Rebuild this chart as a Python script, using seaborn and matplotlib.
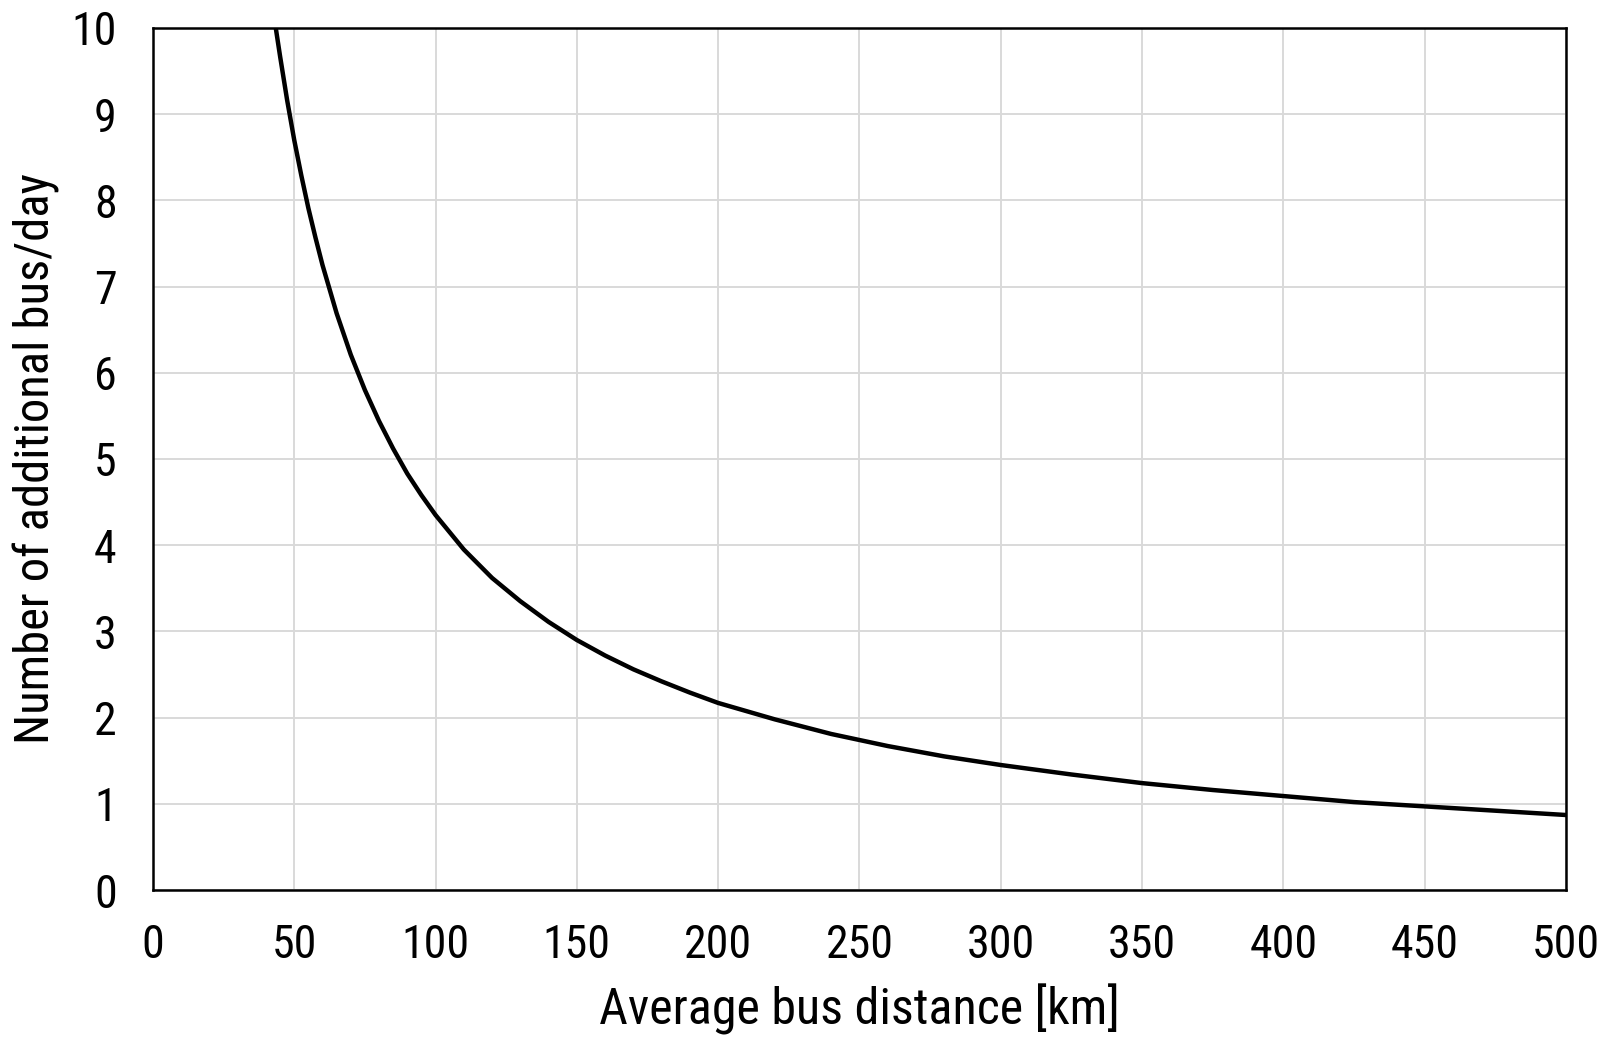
import matplotlib
matplotlib.use("Agg")
import matplotlib.pyplot as plt
import seaborn as sns
import pandas as pd

# values
distance_km = [43, 45, 47.5, 50, 52.5, 55, 57.5, 60, 65, 70, 75, 80, 85, 90, 95, 100,
               110, 120, 130, 140, 150, 160, 170, 180, 190, 200, 220, 240, 260, 280,
               300, 325, 350, 375, 400, 425, 450, 475, 500]
buses_per_day = [10.1, 9.67, 9.16, 8.70, 8.29, 7.91, 7.57, 7.25, 6.69, 6.21, 5.80, 5.44,
                 5.12, 4.83, 4.58, 4.35, 3.95, 3.62, 3.35, 3.11, 2.90, 2.72, 2.56, 2.42,
                 2.29, 2.17, 1.98, 1.81, 1.67, 1.55, 1.45, 1.34, 1.24, 1.16, 1.09, 1.02,
                 0.97, 0.92, 0.87]

x_ticks = [0, 50, 100, 150, 200, 250, 300, 350, 400, 450, 500]
y_ticks = [0, 1, 2, 3, 4, 5, 6, 7, 8, 9, 10]

df = pd.DataFrame({"dist": distance_km, "bus": buses_per_day})

sns.set_style("white")
plt.rcParams['font.family'] = ['Liberation Sans Narrow', 'Roboto Condensed',
                               'Archivo Narrow', 'Liberation Sans', 'DejaVu Sans']
plt.rcParams['text.color'] = 'black'
plt.rcParams['axes.labelcolor'] = 'black'
plt.rcParams['xtick.color'] = 'black'
plt.rcParams['ytick.color'] = 'black'

fig = plt.figure(figsize=(16.08, 10.39), dpi=100)
ax = fig.add_axes([0.0951, 0.1434, 0.9739 - 0.0951, 0.9731 - 0.1434])

sns.lineplot(data=df, x="dist", y="bus", ax=ax, color="black", linewidth=3.2, sort=False)

ax.set_xlim(0, 500)
ax.set_ylim(0, 10)
ax.set_xticks(x_ticks)
ax.set_yticks(y_ticks)
ax.grid(True, color="#d9d9d9", linewidth=1.4)
ax.set_axisbelow(True)
for sp in ax.spines.values():
    sp.set_color("black")
    sp.set_linewidth(1.8)
    sp.set_visible(True)

ax.tick_params(axis="x", length=0, pad=24, labelsize=33)
ax.tick_params(axis="y", length=0, pad=26, labelsize=33)
ax.set_xlabel("Average bus distance [km]", fontsize=36, labelpad=12)
ax.set_ylabel("Number of additional bus/day", fontsize=35, labelpad=8)

fig.savefig("out.png", dpi=100)
plt.close(fig)
